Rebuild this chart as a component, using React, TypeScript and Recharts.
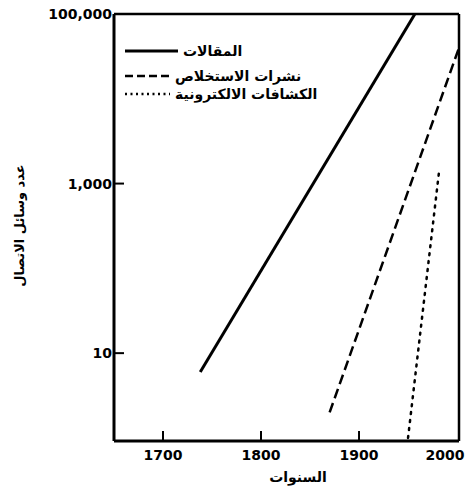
import React from 'react';
import { LineChart, Line, XAxis, YAxis, ReferenceLine } from 'recharts';

const articles = [
  { year: 1738, value: 6 },
  { year: 1957, value: 100000 },
];
const abstractJournals = [
  { year: 1870, value: 2 },
  { year: 2002, value: 40000 },
];
const electronicIndexes = [
  { year: 1950, value: 1 },
  { year: 1982, value: 1500 },
];
const xTicks = [1700, 1800, 1900, 2000];
const yTicks = [10, 1000, 100000];
const yTickLabels: Record<number, string> = { 10: '10', 1000: '1,000', 100000: '100,000' };

const legendItems = [
  { label: 'المقالات', dash: undefined as string | undefined, width: 3 },
  { label: 'نشرات الاستخلاص', dash: '8 4', width: 2.5 },
  { label: 'الكشافات الالكترونية', dash: '2 3.5', width: 2.5 },
];

const FONT = '"DejaVu Sans", sans-serif';

const XTick = (props: any) => {
  const { x, y, payload } = props;
  const v = payload.value;
  const dx = v === 2000 ? -12 : 0;
  return (
    <g>
      {v !== 2000 && <line x1={x} y1={y} x2={x} y2={y - 10} stroke="#000" strokeWidth={2} />}
      <text x={x + dx} y={y + 19} textAnchor="middle" fontFamily={FONT} fontWeight="bold" fontSize={14} fill="#000">
        {v}
      </text>
    </g>
  );
};

const YTick = (props: any) => {
  const { x, y, payload } = props;
  const v = payload.value;
  return (
    <g>
      <line x1={x} y1={y} x2={x + 10} y2={y} stroke="#000" strokeWidth={2} />
      <text x={x - 2} y={y + 5} textAnchor="end" fontFamily={FONT} fontWeight="bold" fontSize={14} fill="#000">
        {yTickLabels[v] ?? String(v)}
      </text>
    </g>
  );
};

const LegendBox = () => (
  <svg width={240} height={80} style={{ position: 'absolute', left: 125, top: 30 }}>
    {legendItems.map((it, i) => {
      const cy = [21, 46, 64][i];
      return (
        <g key={i}>
          <line x1={0} y1={cy} x2={[53, 47, 45][i]} y2={cy} stroke="#000" strokeWidth={it.width} strokeDasharray={it.dash} />
          <text x={[58, 50, 50][i]} y={cy + 5} fontFamily={FONT} fontWeight="bold" fontSize={14} fill="#000" textAnchor="start">
            {it.label}
          </text>
        </g>
      );
    })}
  </svg>
);

const YLabel = (props: any) => {
  const vb = props.viewBox || { x: 0, y: 14, height: 427 };
  const cx = 20;
  const cy = vb.y + vb.height / 2 - 2;
  return (
    <text x={cx} y={cy} transform={`rotate(-90 ${cx} ${cy})`} textAnchor="middle" dominantBaseline="middle" fontFamily={FONT} fontWeight="bold" fontSize={13} fill="#000">
      عدد وسائل الاتصال
    </text>
  );
};

const XLabel = () => (
  <text x={298} y={482} textAnchor="middle" fontFamily={FONT} fontWeight="bold" fontSize={14} fill="#000">
    السنوات
  </text>
);

export default function App() {
  return (
    <div style={{ position: 'absolute', left: 0, top: 0, width: 465, height: 493, background: '#fff' }}>
      <LineChart width={465} height={493} margin={{ top: 14, right: 6, bottom: 0, left: 0 }}>
        <XAxis
          type="number"
          dataKey="year"
          domain={[1650, 2002]}
          ticks={xTicks}
          interval={0}
          allowDataOverflow
          height={52}
          tickSize={0}
          tickMargin={0}
          tickLine={false}
          axisLine={{ stroke: '#000', strokeWidth: 3 }}
          tick={<XTick />}
          label={<XLabel />}
        />
        <YAxis
          type="number"
          dataKey="value"
          scale="log"
          domain={[0.92, 100000]}
          ticks={yTicks}
          interval={0}
          allowDataOverflow
          width={114}
          tickSize={0}
          tickMargin={0}
          tickLine={false}
          axisLine={{ stroke: '#000', strokeWidth: 3 }}
          tick={<YTick />}
          label={<YLabel />}
        />
        <ReferenceLine y={100000} stroke="#000" strokeWidth={2.5} />
        <ReferenceLine x={2002} stroke="#000" strokeWidth={2.5} />
        <Line data={articles} dataKey="value" stroke="#000" strokeWidth={3} dot={false} isAnimationActive={false} legendType="none" />
        <Line data={abstractJournals} dataKey="value" stroke="#000" strokeWidth={2.5} strokeDasharray="10 5" dot={false} isAnimationActive={false} legendType="none" />
        <Line data={electronicIndexes} dataKey="value" stroke="#000" strokeWidth={2.5} strokeDasharray="2 6" strokeLinecap="round" dot={false} isAnimationActive={false} legendType="none" />
      </LineChart>
      <LegendBox />
    </div>
  );
}
